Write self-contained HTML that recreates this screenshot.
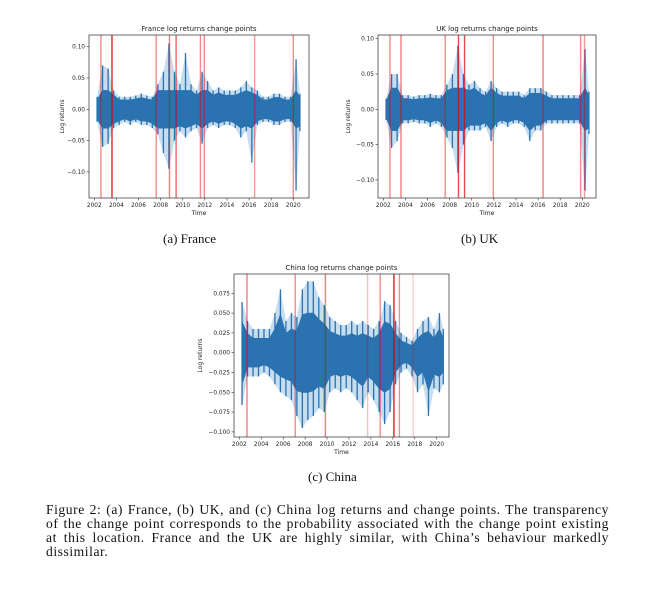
<!DOCTYPE html>
<html><head><meta charset="utf-8">
<style>
html,body{margin:0;padding:0;background:#fff;}
body{width:646px;height:598px;position:relative;overflow:hidden;}
svg{position:absolute;left:0;top:0;}
.cap{position:absolute;font-family:"Liberation Serif",serif;font-size:13px;color:#111;white-space:nowrap;}
.ln{position:absolute;left:46px;width:563px;font-family:"Liberation Serif",serif;font-size:13.6px;letter-spacing:0.55px;color:#111;text-align:justify;text-align-last:justify;white-space:nowrap;}
.ln.last{text-align-last:left;}
</style></head>
<body>
<svg id="fig" width="646" height="598"></svg>
<div class="cap" style="left:163px;top:231px;">(a) France</div>
<div class="cap" style="left:461px;top:231px;">(b) UK</div>
<div class="cap" style="left:308px;top:469px;">(c) China</div>
<div>
<div class="ln" style="top:502px;">Figure 2: (a) France, (b) UK, and (c) China log returns and change points. The transparency</div>
<div class="ln" style="top:516px;">of the change point corresponds to the probability associated with the change point existing</div>
<div class="ln" style="top:530px;">at this location. France and the UK are highly similar, with China’s behaviour markedly</div>
<div class="ln last" style="top:544px;">dissimilar.</div>
</div>
<script>
const years = [2002.25,2002.75,2003.25,2003.75,2004.25,2004.75,2005.25,2005.75,2006.25,2006.75,2007.25,2007.75,2008.25,2008.75,2009.25,2009.75,2010.25,2010.75,2011.25,2011.75,2012.25,2012.75,2013.25,2013.75,2014.25,2014.75,2015.25,2015.75,2016.25,2016.75,2017.25,2017.75,2018.25,2018.75,2019.25,2019.75,2020.25,2020.6];
const franceHigh = [0.02,0.07,0.065,0.03,0.02,0.02,0.02,0.022,0.025,0.022,0.02,0.04,0.06,0.105,0.06,0.04,0.09,0.04,0.03,0.06,0.045,0.03,0.035,0.03,0.03,0.03,0.035,0.045,0.035,0.03,0.02,0.02,0.025,0.025,0.02,0.02,0.08,0.025];
const franceLow = [-0.02,-0.06,-0.055,-0.03,-0.025,-0.02,-0.025,-0.02,-0.025,-0.025,-0.03,-0.04,-0.07,-0.095,-0.05,-0.035,-0.045,-0.035,-0.03,-0.055,-0.03,-0.025,-0.03,-0.025,-0.025,-0.03,-0.045,-0.035,-0.085,-0.025,-0.02,-0.02,-0.025,-0.025,-0.02,-0.02,-0.13,-0.035];
const ukHigh = [0.015,0.05,0.05,0.02,0.02,0.018,0.02,0.02,0.022,0.02,0.02,0.035,0.05,0.09,0.05,0.035,0.04,0.03,0.025,0.04,0.03,0.025,0.025,0.025,0.025,0.02,0.03,0.03,0.03,0.025,0.02,0.02,0.02,0.02,0.02,0.02,0.085,0.025];
const ukLow = [-0.015,-0.055,-0.045,-0.02,-0.02,-0.018,-0.02,-0.02,-0.025,-0.02,-0.025,-0.04,-0.055,-0.09,-0.05,-0.03,-0.03,-0.03,-0.025,-0.045,-0.025,-0.02,-0.025,-0.02,-0.02,-0.025,-0.045,-0.03,-0.03,-0.02,-0.02,-0.02,-0.02,-0.02,-0.02,-0.02,-0.115,-0.035];
const chinaHigh = [0.064,0.04,0.03,0.03,0.03,0.03,0.05,0.08,0.04,0.05,0.045,0.08,0.09,0.09,0.07,0.06,0.045,0.04,0.035,0.035,0.04,0.035,0.04,0.035,0.03,0.04,0.065,0.06,0.04,0.025,0.02,0.015,0.03,0.04,0.045,0.03,0.05,0.03];
const chinaLow = [-0.066,-0.03,-0.03,-0.03,-0.025,-0.03,-0.04,-0.05,-0.055,-0.06,-0.08,-0.095,-0.085,-0.08,-0.07,-0.075,-0.05,-0.045,-0.05,-0.045,-0.05,-0.06,-0.07,-0.05,-0.06,-0.075,-0.09,-0.075,-0.04,-0.025,-0.02,-0.03,-0.05,-0.04,-0.08,-0.045,-0.05,-0.04];
const franceCP = [2002.6,2003.6,2007.6,2008.8,2009.4,2011.6,2011.95,2016.5,2020.0];
const franceCPAlpha = [0.45,0.85,0.45,0.5,0.6,0.45,0.45,0.4,0.45];
const ukCP = [2002.6,2003.6,2007.6,2008.8,2009.35,2011.95,2016.45,2019.85,2020.2];
const ukCPAlpha = [0.45,0.5,0.45,0.7,0.7,0.45,0.5,0.45,0.4];
const chinaCP = [2002.7,2007.1,2009.85,2013.7,2014.85,2016.1,2016.6,2017.85];
const chinaCPAlpha = [0.5,0.45,0.5,0.25,0.45,0.9,0.45,0.2];
const xTickYears = [2002,2004,2006,2008,2010,2012,2014,2016,2018,2020];
const franceYTicks = [0.10,0.05,0.00,-0.05,-0.10];
const franceYLabels = ["0.10","0.05","0.00","\u22120.05","\u22120.10"];
const ukYTicks = [0.10,0.05,0.00,-0.05,-0.10];
const ukYLabels = ["0.10","0.05","0.00","\u22120.05","\u22120.10"];
const chinaYTicks = [0.075,0.05,0.025,0,-0.025,-0.05,-0.075,-0.1];
const chinaYLabels = ["0.075","0.050","0.025","0.000","\u22120.025","\u22120.050","\u22120.075","\u22120.100"];

const NS="http://www.w3.org/2000/svg";
const svg=document.getElementById('fig');
function mk(tag,attrs,parent){const e=document.createElementNS(NS,tag);for(const k in attrs)e.setAttribute(k,attrs[k]);(parent||svg).appendChild(e);return e;}

function chart(cfg){
  const g=mk('g',{});
  
  
  const X=v=>cfg.x2002+(v-2002)*(cfg.x2020-cfg.x2002)/18;
  const Y=v=>cfg.y0-(v)*(cfg.y0-cfg.yTop)/cfg.topVal;
  const n=cfg.years.length;
  const coreH=v=>Math.min(v*cfg.coreScale,cfg.coreCap);
  const coreL=v=>Math.max(v*cfg.coreScale,-cfg.coreCap);
  let outer="",inner="";
  for(let i=0;i<n;i++){outer+=X(cfg.years[i])+","+Y(cfg.hi[i])+" ";}
  for(let i=n-1;i>=0;i--){outer+=X(cfg.years[i])+","+Y(cfg.lo[i])+" ";}
  for(let i=0;i<n;i++){inner+=X(cfg.years[i])+","+Y(coreH(cfg.hi[i]))+" ";}
  for(let i=n-1;i>=0;i--){inner+=X(cfg.years[i])+","+Y(coreL(cfg.lo[i]))+" ";}
  const ob=mk('polygon',{points:outer,fill:'#5b9bd0','fill-opacity':0.35},g);
  
  
  for(let i=0;i<n;i++){
    const s=mk('line',{x1:X(cfg.years[i]),x2:X(cfg.years[i]),y1:Y(cfg.hi[i]),y2:Y(cfg.lo[i]),stroke:'#2a72b0','stroke-width':1.3},g);
    
    
  }
  const ib=mk('polygon',{points:inner,fill:'#2a72b0',stroke:'#2a72b0','stroke-width':0.8},g);
  
  
  cfg.cp.forEach((c,i)=>{
    const l=mk('line',{x1:X(c),x2:X(c),y1:cfg.fy1,y2:cfg.fy2,stroke:'#e00000','stroke-opacity':cfg.cpa[i],'stroke-width':1.4},g);
    
    
  });
  const fr=mk('rect',{x:cfg.fx1,y:cfg.fy1,width:cfg.fx2-cfg.fx1,height:cfg.fy2-cfg.fy1,fill:'none',stroke:'#444','stroke-width':0.8},g);
  
  
  xTickYears.forEach(yr=>{
    const x=X(yr);
    mk('line',{x1:x,x2:x,y1:cfg.fy2,y2:cfg.fy2+2.5,stroke:'#333','stroke-width':0.6},g);
    const t=mk('text',{x:x,y:cfg.fy2+9,'text-anchor':'middle','font-size':5.8,'font-family':'DejaVu Sans, sans-serif',fill:'#222'},g);
    t.textContent=yr;
    
    
  });
  cfg.yt.forEach((v,i)=>{
    const y=Y(v);
    mk('line',{x1:cfg.fx1-2.5,x2:cfg.fx1,y1:y,y2:y,stroke:'#333','stroke-width':0.6},g);
    const t=mk('text',{x:cfg.fx1-4,y:y+2,'text-anchor':'end','font-size':5.8,'font-family':'DejaVu Sans, sans-serif',fill:'#222'},g);
    t.textContent=cfg.yl[i];
    
    
  });
  const tt=mk('text',{x:(cfg.fx1+cfg.fx2)/2,y:cfg.fy1-4,'text-anchor':'middle','font-size':7,'font-family':'DejaVu Sans, sans-serif',fill:'#222'},g);
  tt.textContent=cfg.title;
  
  
  const xl=mk('text',{x:(cfg.fx1+cfg.fx2)/2,y:cfg.fy2+17,'text-anchor':'middle','font-size':6,'font-family':'DejaVu Sans, sans-serif',fill:'#222'},g);
  xl.textContent='Time';
  
  
  const yx=cfg.ylx, yy=(cfg.fy1+cfg.fy2)/2;
  const yl=mk('text',{x:yx,y:yy,'text-anchor':'middle','font-size':6,'font-family':'DejaVu Sans, sans-serif',fill:'#222',transform:'rotate(-90 '+yx+' '+yy+')'},g);
  yl.textContent='Log returns';
  
  
}
chart({name:'france-chart',title:'France log returns change points',years:years,hi:franceHigh,lo:franceLow,cp:franceCP,cpa:franceCPAlpha,coreScale:0.75,coreCap:0.03,
  x2002:94.3,x2020:293.3,y0:109.3,yTop:46.7,topVal:0.10,fx1:89,fx2:309,fy1:35,fy2:198,yt:franceYTicks,yl:franceYLabels,ylx:64});
chart({name:'uk-chart',title:'UK log returns change points',years:years,hi:ukHigh,lo:ukLow,cp:ukCP,cpa:ukCPAlpha,coreScale:0.75,coreCap:0.03,
  x2002:383.3,x2020:582.3,y0:109.3,yTop:38.7,topVal:0.10,fx1:378,fx2:596,fy1:35,fy2:198,yt:ukYTicks,yl:ukYLabels,ylx:350});
chart({name:'china-chart',title:'China log returns change points',years:years,hi:chinaHigh,lo:chinaLow,cp:chinaCP,cpa:chinaCPAlpha,coreScale:0.6,coreCap:0.05,
  x2002:239.3,x2020:436.7,y0:352.7,yTop:293.3,topVal:0.075,fx1:234,fx2:449,fy1:274,fy2:437,yt:chinaYTicks,yl:chinaYLabels,ylx:202});
</script>
</body></html>
